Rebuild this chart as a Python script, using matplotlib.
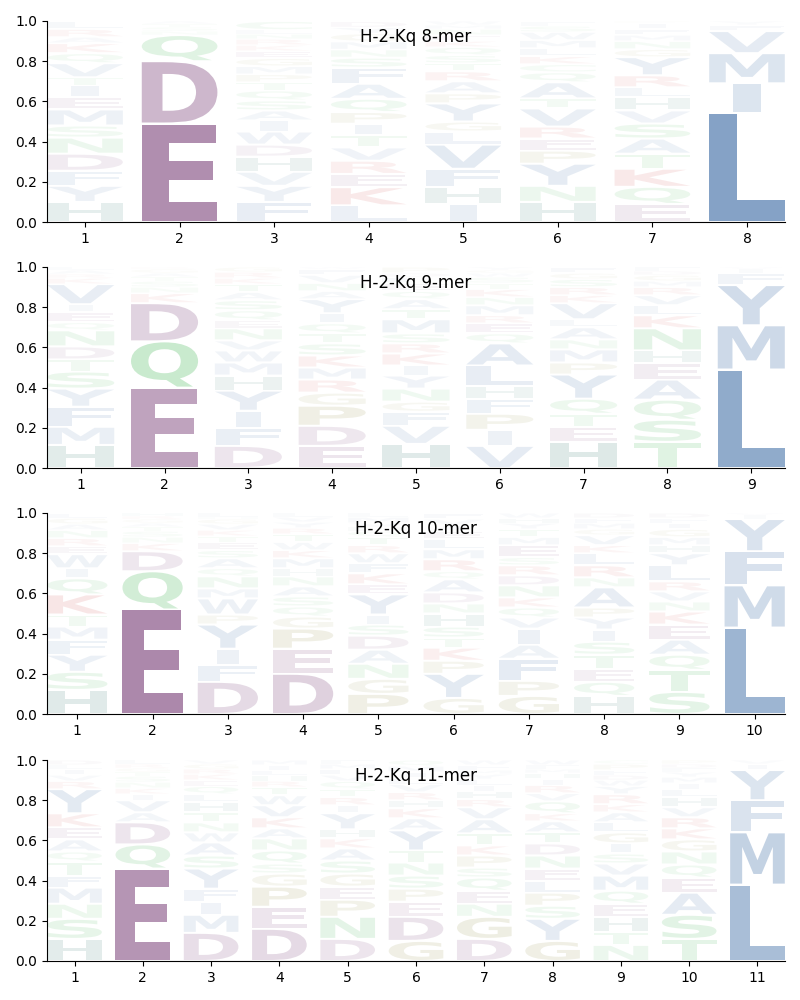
import matplotlib
matplotlib.use("Agg")
import matplotlib.pyplot as plt
import matplotlib.transforms as mtransforms
from matplotlib.textpath import TextPath
from matplotlib.patches import PathPatch
from matplotlib.font_manager import FontProperties

titles = ["H-2-Kq 8-mer", "H-2-Kq 9-mer", "H-2-Kq 10-mer", "H-2-Kq 11-mer"]

# letters per position, listed bottom -> top, with their heights (frequencies)
kq8_letters = ["HYFDNSMEITVQKARL", "EDQNSTA", "FYVHDWIASQTPMGEKRNLC",
               "LKERVTIPQAFSNMGYD", "IHFVLGYPARTSQKENMW", "HNYPERVTAQCKLMWSF",
               "EQKTASVHLRYGNMFIP", "LIMVFY"]
kq8_heights = [
    [.10, .08, .075, .085, .08, .06, .08, .06, .06, .04, .07, .05, .05, .03, .04, .04],
    [.49, .31, .13, .02, .02, .015, .015],
    [.10, .08, .07, .075, .06, .065, .055, .05, .05, .05, .04, .04, .04, .04, .035, .03, .03, .025, .02, .045],
    [.083, .09, .066, .066, .066, .06, .058, .058, .066, .075, .08, .05, .04, .04, .04, .03, .03],
    [.09, .085, .09, .12, .065, .05, .09, .05, .06, .05, .04, .04, .04, .03, .03, .03, .02, .02],
    [.10, .08, .11, .065, .06, .06, .09, .05, .08, .05, .04, .04, .04, .04, .04, .03, .02],
    [.09, .085, .09, .075, .075, .075, .065, .065, .05, .06, .09, .04, .04, .03, .03, .03, .01],
    [.54, .15, .15, .11, .03, .02],
]

kq9_letters = ["HMFYSTDNQEIVKRAL", "EQDKNSTAGR", "DFIYHMWVNEQSATKRG",
               "EDPGRMKSTQIYANVFW", "HVFGNYIKRSMTAQELDP", "VIPFHLAQERMNKTSWGY",
               "HETQYPMNALVKRSGF", "TSQAEHNKLVRMGDF", "LMYFIV"]
kq9_heights = [
    [.115, .09, .10, .09, .085, .06, .065, .08, .04, .05, .04, .10, .03, .02, .02, .015],
    [.40, .23, .19, .05, .03, .03, .02, .02, .02, .01],
    [.11, .09, .085, .10, .075, .065, .06, .05, .06, .04, .05, .05, .04, .04, .03, .03, .025],
    [.11, .10, .10, .065, .065, .06, .06, .06, .05, .05, .05, .07, .04, .04, .04, .03, .01],
    [.12, .09, .07, .05, .065, .065, .05, .06, .05, .05, .07, .05, .05, .04, .04, .03, .02, .03],
    [.11, .08, .08, .075, .065, .10, .11, .05, .05, .04, .05, .04, .04, .03, .03, .02, .015, .015],
    [.13, .075, .065, .075, .12, .06, .065, .05, .06, .04, .08, .04, .04, .04, .03, .03],
    [.13, .11, .10, .10, .08, .065, .11, .065, .05, .05, .04, .03, .03, .02, .02],
    [.49, .22, .20, .06, .02, .01],
]

kq10_letters = ["HSYFMTKQIWERNAGL", "EQDKNSTAGRH", "DFIYPWMNQASETKVGHL",
                "DEPGQSANHMKWTRYVL", "PGNADSIYEKFWRTQHVML", "GYPKTSHNDAQRMLEIVF",
                "GPFAIVQKNDRSEMTYHW", "HQETSIYPANRLKVGMFD", "STQAEKNVRLYHMGIFD",
                "LMFYIV"]
kq10_heights = [
    [.12, .09, .085, .075, .065, .06, .10, .08, .05, .07, .04, .04, .04, .03, .03, .025],
    [.52, .19, .10, .04, .03, .03, .02, .02, .02, .015, .015],
    [.16, .085, .08, .12, .05, .08, .05, .06, .04, .05, .04, .04, .03, .03, .03, .025, .01, .02],
    [.20, .125, .10, .06, .05, .05, .05, .05, .04, .05, .04, .04, .04, .03, .03, .025, .02],
    [.10, .075, .075, .07, .07, .055, .05, .10, .05, .055, .05, .05, .04, .04, .03, .02, .02, .03, .02],
    [.08, .12, .065, .065, .05, .055, .065, .05, .055, .065, .04, .06, .05, .05, .04, .03, .03, .03],
    [.09, .075, .11, .07, .08, .055, .05, .05, .06, .05, .05, .04, .06, .04, .04, .03, .025, .025],
    [.09, .07, .065, .07, .065, .06, .06, .05, .10, .05, .06, .06, .04, .05, .03, .03, .025, .025],
    [.11, .11, .075, .075, .075, .065, .05, .05, .05, .08, .06, .04, .04, .04, .03, .025, .025],
    [.43, .21, .17, .16, .02, .01],
]

kq11_letters = ["HSNMFTQAEKYRVILD", "EQDAVIKNSTGRL", "DMIFYSAWNTHLQEKRGV",
                "DEPGSQNAKVWTRHLIM", "DNPEGSAKHYIRTQVLMF", "GDEPSNTYAKHRVLIMQ",
                "DGNEQSPKTAVRHILYMFW", "GYSPLENDTAKQVRIHMFW", "NTHEQMVSIGLAKRYWDFPC",
                "TSAEQNGKRVHLIMYFDP", "LMFYIV"]
kq11_heights = [
    [.11, .10, .075, .08, .06, .07, .05, .06, .06, .07, .12, .04, .03, .03, .02, .025],
    [.46, .12, .11, .05, .06, .03, .03, .03, .03, .02, .02, .02, .02],
    [.14, .09, .065, .065, .10, .065, .065, .05, .05, .05, .05, .04, .04, .03, .03, .025, .025, .02],
    [.16, .11, .10, .065, .05, .065, .06, .05, .055, .06, .05, .04, .03, .03, .025, .025, .025],
    [.11, .11, .085, .065, .065, .065, .06, .05, .045, .08, .04, .04, .04, .04, .03, .03, .025, .02],
    [.10, .12, .075, .065, .065, .065, .06, .10, .06, .05, .04, .04, .04, .03, .03, .03, .03],
    [.11, .11, .065, .065, .065, .05, .06, .05, .06, .07, .06, .04, .04, .03, .03, .025, .02, .025, .025],
    [.10, .11, .065, .065, .06, .06, .065, .06, .055, .055, .04, .06, .04, .04, .03, .03, .02, .02, .025],
    [.08, .065, .075, .065, .065, .075, .06, .05, .05, .055, .05, .05, .04, .05, .04, .03, .025, .025, .03, .02],
    [.11, .12, .11, .075, .065, .065, .06, .055, .055, .05, .05, .04, .03, .03, .025, .02, .02, .02],
    [.38, .26, .16, .15, .03, .02],
]

# residue colour groups
group_colors = {
    "DE": (0.48, 0.25, 0.47),
    "KR": (0.80, 0.22, 0.22),
    "H": (0.18, 0.46, 0.42),
    "STNQC": (0.23, 0.70, 0.30),
    "PG": (0.52, 0.50, 0.18),
    "AVLIMFWY": (0.26, 0.44, 0.66),
}
color_of = {}
for k, c in group_colors.items():
    for ch in k:
        color_of[ch] = c

fp = FontProperties(family="DejaVu Sans", weight="bold")
E_WIDTH = TextPath((0, 0), "E", size=1, prop=fp).get_extents().width


def draw_letter(ax, ch, x, y, w, h, color, alpha):
    tp = TextPath((0, 0), ch, size=1, prop=fp)
    bb = tp.get_extents()
    # narrow glyphs (like I) are not stretched more than E
    sx = min(w / bb.width, w / E_WIDTH)
    gw = bb.width * sx
    pad = min(0.005, h * 0.1)
    t = (mtransforms.Affine2D()
         .translate(-bb.x0, -bb.y0)
         .scale(sx, (h - 2 * pad) / bb.height)
         .translate(x - gw / 2, y + pad))
    ax.add_patch(PathPatch(t.transform_path(tp), facecolor=color,
                           edgecolor="none", alpha=alpha))


def plot_logo(ax, letters, heights, title):
    n = len(letters)
    for i, (lets, hs) in enumerate(zip(letters, heights)):
        x = i + 1
        y = 0.0
        for ch, h in zip(lets, hs):
            draw_letter(ax, ch, x, y, 0.8, h, color_of[ch], min(1.0, 1.2 * h))
            y += h
    ax.set_xlim(0.6, n + 0.4)
    ax.set_ylim(0, 1)
    ax.set_xticks(range(1, n + 1))
    ax.set_yticks([0, 0.2, 0.4, 0.6, 0.8, 1.0])
    ax.spines["top"].set_visible(False)
    ax.spines["right"].set_visible(False)
    ax.text(0.5, 0.92, title, transform=ax.transAxes, ha="center",
            va="center", fontsize=12)


fig = plt.figure(figsize=(8, 10), dpi=100)
bottoms = [0.778, 0.532, 0.286, 0.039]
all_letters = [kq8_letters, kq9_letters, kq10_letters, kq11_letters]
all_heights = [kq8_heights, kq9_heights, kq10_heights, kq11_heights]
for b, lets, hs, title in zip(bottoms, all_letters, all_heights, titles):
    ax = fig.add_axes([0.059, b, 0.922, 0.201])
    plot_logo(ax, lets, hs, title)

fig.savefig("out.png", dpi=100)
